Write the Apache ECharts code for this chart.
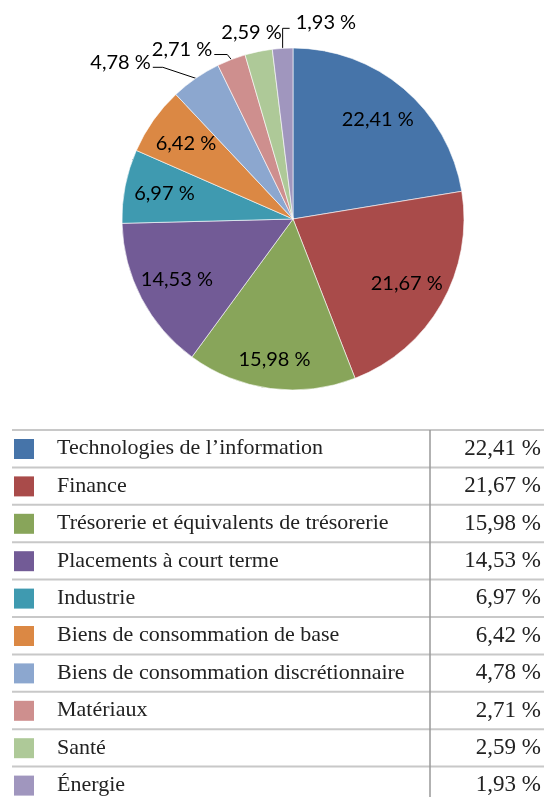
<!DOCTYPE html>
<html>
<head>
<meta charset="utf-8">
<script src="https://cdn.jsdelivr.net/npm/echarts@6/dist/echarts.min.js"></script>
<style>
  html, body { margin: 0; padding: 0; background: #fff; }
  #chart { width: 544px; height: 797px; }
</style>
</head>
<body>
<div id="chart"></div>
<script>
// secteurs
const categories = [
  'Technologies de l\u2019information',
  'Finance',
  'Trésorerie et équivalents de trésorerie',
  'Placements à court terme',
  'Industrie',
  'Biens de consommation de base',
  'Biens de consommation discrétionnaire',
  'Matériaux',
  'Santé',
  'Énergie'
]
// pourcentages
const shares = [22.41, 21.67, 15.98, 14.53, 6.97, 6.42, 4.78, 2.71, 2.59, 1.93]
const colors = ['#4674a9', '#a94b4a', '#88a55a', '#725b96', '#3f9ab0',
                '#db8844', '#8ca7cf', '#ce8f8e', '#aec998', '#a096be']

const CX = 293, CY = 219, R = 171
const ROW_TOP = 430, ROW_H = 37.4

const fmt = v => v.toFixed(2).replace('.', ',') + ' %'

// angle du milieu de chaque part (radians, sens horaire depuis midi)
const total = shares.reduce((a, b) => a + b, 0)
const midAngles = []
let acc = 0
shares.forEach(v => {
  midAngles.push((acc + v / 2) / total * Math.PI * 2)
  acc += v
})

const chart = echarts.init(document.getElementById('chart'))

// tableau sous le camembert
const graphic = []
categories.forEach((name, i) => {
  const y0 = ROW_TOP + i * ROW_H
  graphic.push({
    type: 'line',
    shape: { x1: 12, y1: y0, x2: 544, y2: y0 },
    style: { stroke: '#c8c8c8', lineWidth: 2 }
  })
  graphic.push({
    type: 'rect',
    shape: { x: 14, y: y0 + 9, width: 20, height: 20 },
    style: { fill: colors[i] }
  })
  graphic.push({
    type: 'text',
    x: 57, y: y0 + ROW_H / 2,
    style: {
      text: name, fill: '#222', align: 'left', verticalAlign: 'middle',
      font: '22px "Liberation Serif", serif'
    }
  })
  graphic.push({
    type: 'text',
    x: 541, y: y0 + ROW_H / 2,
    style: {
      text: fmt(shares[i]), fill: '#222', align: 'right', verticalAlign: 'middle',
      font: '23px "Liberation Serif", serif'
    }
  })
})
graphic.push({
  type: 'line',
  shape: { x1: 430, y1: ROW_TOP, x2: 430, y2: 797 },
  style: { stroke: '#999', lineWidth: 1.5 }
})

const option = {
  animation: false,
  graphic: graphic,
  series: [
    {
      type: 'pie',
      center: [CX, CY],
      radius: R,
      startAngle: 90,
      clockwise: true,
      avoidLabelOverlap: false,
      itemStyle: { borderColor: '#fff', borderWidth: 0.6 },
      label: {
        show: true,
        position: 'inside',
        color: '#000',
        fontFamily: 'Lato',
        fontSize: 20,
        formatter: p => fmt(p.value)
      },
      labelLine: {
        show: true,
        lineStyle: { color: '#000', width: 1 }
      },
      labelLayout: function (p) {
        const i = p.dataIndex
        const a = midAngles[i]
        const s = Math.sin(a), c = Math.cos(a)
        if (i < 6) {
          const d = i === 2 ? 142 : 131
          return { x: CX + d * s, y: CY - d * c, align: 'center', verticalAlign: 'middle' }
        }
        const ex = CX + R * s, ey = CY - R * c
        if (i === 6) {
          return {
            x: ex - 45, y: ey - 16, align: 'right', verticalAlign: 'middle',
            labelLinePoints: [[ex, ey], [ex - 33, ey - 11], [ex - 43, ey - 11]]
          }
        }
        if (i === 7) {
          return {
            x: ex - 19, y: ey - 10, align: 'right', verticalAlign: 'middle',
            labelLinePoints: [[ex, ey], [ex - 4, ey - 5], [ex - 17, ey - 5]]
          }
        }
        if (i === 8) {
          return { x: ex - 7, y: ey - 19, align: 'center', verticalAlign: 'middle' }
        }
        return {
          x: ex + 13, y: ey - 26, align: 'left', verticalAlign: 'middle',
          labelLinePoints: [[ex, ey], [ex, ey - 20], [ex + 7, ey - 20]]
        }
      },
      data: categories.map((name, i) => {
        const item = { name: name, value: shares[i], itemStyle: { color: colors[i] } }
        if (i >= 6) item.label = { position: 'outside' }
        if (i === 8) item.labelLine = { show: false }
        return item
      })
    }
  ]
}

option && chart.setOption(option)
</script>
</body>
</html>
